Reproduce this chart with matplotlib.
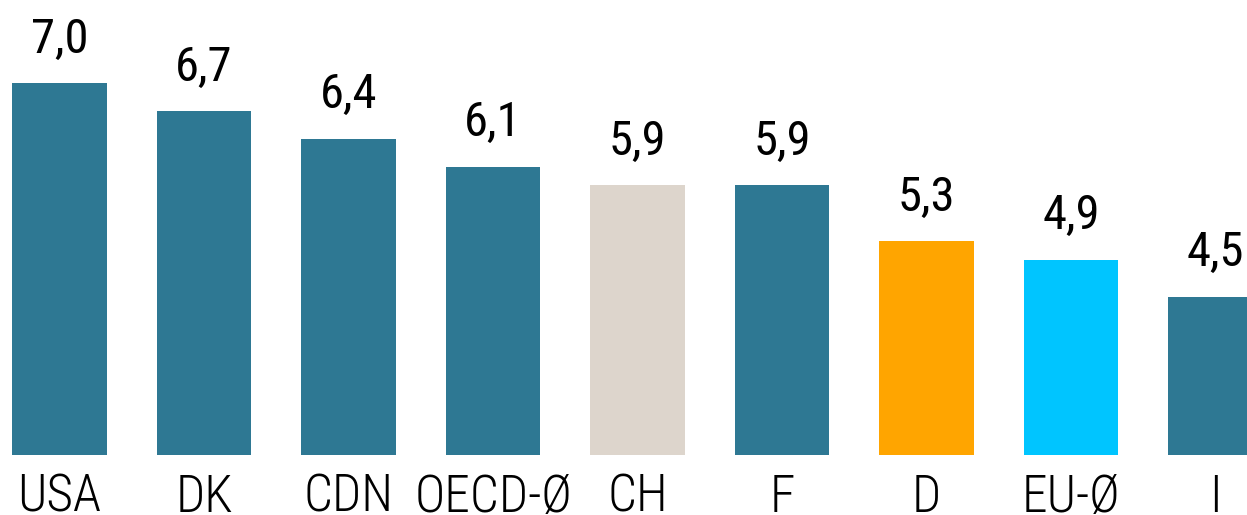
import matplotlib
matplotlib.use("Agg")
import matplotlib.pyplot as plt
from matplotlib import font_manager

# categories and values
countries = ["USA", "DK", "CDN", "OECD-Ø", "CH", "F", "D", "EU-Ø", "I"]
value_labels = ["7,0", "6,7", "6,4", "6,1", "5,9", "5,9", "5,3", "4,9", "4,5"]
# bar heights as drawn in the picture (axis does not start at zero)
heights = [7.0, 6.7, 6.4, 6.1, 5.9, 5.9, 5.3, 5.1, 4.7]
colors = ["#2e7893", "#2e7893", "#2e7893", "#2e7893", "#ddd5cc",
          "#2e7893", "#ffa500", "#00c5ff", "#2e7893"]

# pick a condensed face if one is around, else DejaVu
names = {f.name for f in font_manager.fontManager.ttflist}
fam = "DejaVu Sans"
for cand in ["Roboto Condensed", "Archivo Narrow", "PT Sans Narrow",
             "Open Sans Condensed", "Liberation Sans Narrow"]:
    if cand in names:
        fam = cand
        break

fig = plt.figure(figsize=(12.47, 5.15), dpi=100)
ax = fig.add_axes([0, 60 / 515, 1, 455 / 515])

x = list(range(len(countries)))
ax.bar(x, heights, width=0.657, color=colors)
ax.set_xlim(-0.412, 8.218)
ax.set_ylim(3.0, 7.895)

for xi, h, lab in zip(x, heights, value_labels):
    ax.annotate(lab, xy=(xi, h), xytext=(0, 22), textcoords="offset points",
                ha="center", va="baseline", fontsize=35, family=fam,
                weight="normal", color="black")

# category names along the bottom edge
trans = matplotlib.transforms.blended_transform_factory(ax.transData, fig.transFigure)
for xi, name in zip(x, countries):
    ax.text(xi, 3 / 515, name, transform=trans, ha="center", va="baseline",
            fontsize=37, family=fam, weight="light", color="black")

ax.set_xticks([])
ax.set_yticks([])
for s in ax.spines.values():
    s.set_visible(False)

fig.savefig("out.png", dpi=100)
